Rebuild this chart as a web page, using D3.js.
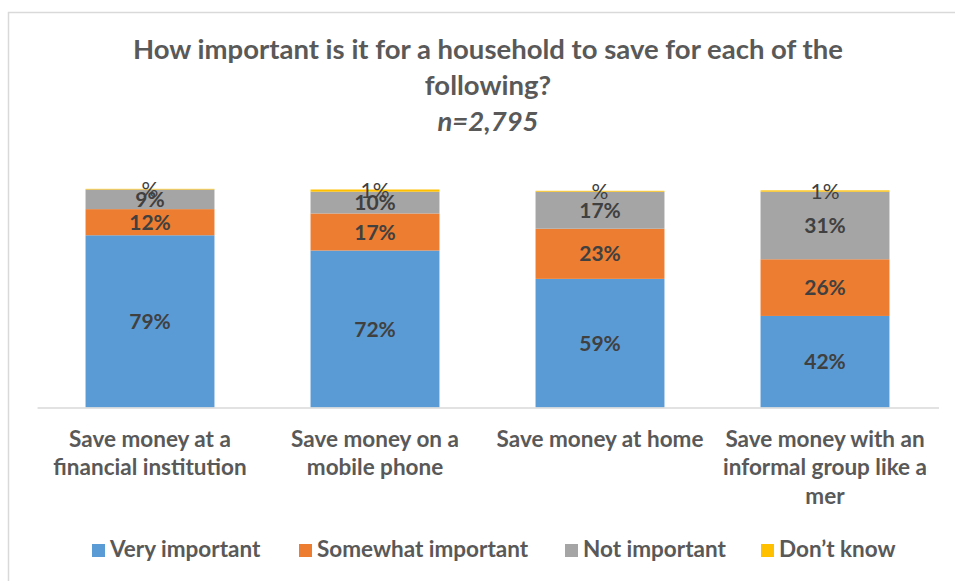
<!DOCTYPE html>
<html>
<head>
<meta charset="utf-8">
<script src="https://cdn.jsdelivr.net/npm/d3@7"></script>
<style>
  html, body { margin: 0; padding: 0; background: #fff; }
  svg { display: block; font-family: Lato, "Open Sans", sans-serif; }
</style>
</head>
<body>
<svg id="chart" width="955" height="581"></svg>
<script>
// Survey categories (multi-line axis labels)
const categories = [
  ["Save money at a", "financial institution"],
  ["Save money on a", "mobile phone"],
  ["Save money at home"],
  ["Save money with an", "informal group like a", "mer"]
];
const seriesNames = ["Very important", "Somewhat important", "Not important", "Don\u2019t know"];
// Percent of respondents per category, one array per response
const veryImportant     = [79, 72, 59, 42];
const somewhatImportant = [12, 17, 23, 26];
const notImportant      = [9, 10, 17, 31];
const dontKnow          = [0.3, 1, 0.4, 0.6];
const colors = ["#5B9BD5", "#ED7D31", "#A5A5A5", "#FFC000"];

const titleLines = ["How important is it for a household to save for each of the", "following?"];
const subtitle = "n=2,795";

const svg = d3.select("#chart");

// outer frame
svg.append("rect")
  .attr("x", 8.5).attr("y", 12.5).attr("width", 1000).attr("height", 1000)
  .attr("fill", "none").attr("stroke", "#D9D9D9").attr("stroke-width", 1.5);

// title
const title = svg.append("text").attr("text-anchor", "middle")
  .attr("fill", "#595959").attr("font-weight", "bold").attr("font-size", 27.5);
titleLines.forEach((t, i) => title.append("tspan").attr("x", 488).attr("y", 59 + i * 36).text(t));
svg.append("text").attr("text-anchor", "middle").attr("x", 488).attr("y", 131)
  .attr("fill", "#595959").attr("font-weight", "bold").attr("font-style", "italic")
  .attr("font-size", 27.5).text(subtitle);

const series = [veryImportant, somewhatImportant, notImportant, dontKnow];
const rows = categories.map((c, i) => {
  const r = { idx: i };
  seriesNames.forEach((s, k) => r[s] = series[k][i]);
  return r;
});
const stacked = d3.stack().keys(seriesNames)(rows);

const x = d3.scaleBand().domain(d3.range(categories.length))
  .range([37.5, 937.5]).paddingInner(0.427).paddingOuter(0.2135);
const y = d3.scaleLinear().domain([0, 100]).range([407.5, 189.5]);

// bars
const layers = svg.append("g").selectAll("g").data(stacked).join("g")
  .attr("fill", (d, k) => colors[k]);
layers.selectAll("rect").data(d => d).join("rect")
  .attr("x", (d, i) => x(i))
  .attr("width", x.bandwidth())
  .attr("y", d => y(d[1]))
  .attr("height", d => y(d[0]) - y(d[1]));

// baseline
svg.append("line").attr("x1", 37.5).attr("x2", 939).attr("y1", 408).attr("y2", 408)
  .attr("stroke", "#D9D9D9").attr("stroke-width", 1.5);

// data labels ("#%" style: a value that rounds to zero shows only the sign)
const fmt = v => (Math.round(v) === 0 ? "" : Math.round(v)) + "%";
const labels = svg.append("g").attr("text-anchor", "middle").attr("fill", "#404040");
stacked.forEach((layer, k) => {
  labels.append("g").selectAll("text").data(layer).join("text")
    .attr("x", (d, i) => x(i) + x.bandwidth() / 2)
    .attr("y", d => (y(d[0]) + y(d[1])) / 2)
    .attr("dy", "0.36em")
    .attr("font-size", 21)
    .attr("font-weight", k === 3 ? "normal" : "bold")
    .text(d => fmt(d[1] - d[0]));
});

// category axis labels
const cat = svg.append("g").attr("text-anchor", "middle").attr("fill", "#595959")
  .attr("font-size", 22.5).attr("font-weight", "bold");
categories.forEach((lines, i) => {
  const t = cat.append("text");
  lines.forEach((l, j) => t.append("tspan")
    .attr("x", x(i) + x.bandwidth() / 2).attr("y", 446.5 + j * 28.5).text(l));
});

// legend
const legendX = [92, 299, 565, 761];
const legend = svg.append("g").selectAll("g").data(seriesNames).join("g")
  .attr("transform", (d, k) => `translate(${legendX[k]},544)`);
legend.append("rect").attr("width", 13).attr("height", 13).attr("fill", (d, k) => colors[k]);
legend.append("text").attr("x", 18).attr("y", 13)
  .attr("fill", "#595959").attr("font-size", 22.5).attr("font-weight", "bold").text(d => d);
</script>
</body>
</html>
